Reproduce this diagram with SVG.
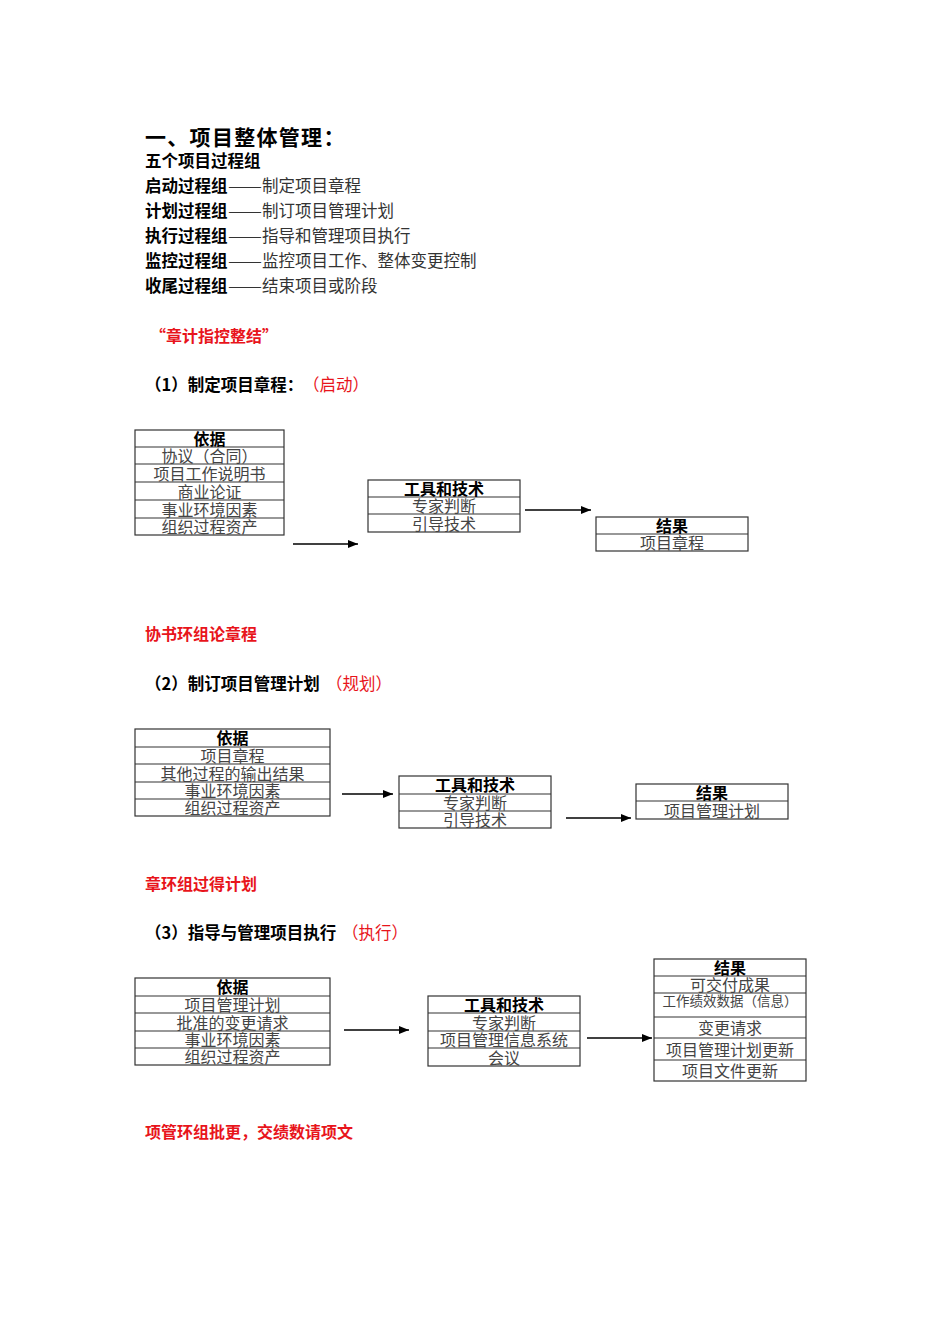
<svg xmlns="http://www.w3.org/2000/svg" width="950" height="1344" viewBox="0 0 950 1344">
<style>
text{font-family:"Noto Sans CJK SC","Liberation Sans",sans-serif}
.ti{font-size:21px;font-weight:bold;fill:#000;letter-spacing:1.3px}
.b{font-size:16.5px;font-weight:bold;fill:#000}
.n{font-size:16.5px;fill:#333;font-weight:normal}
.r{font-size:16px;font-weight:bold;fill:#e8141b}
.rn{fill:#e8141b;font-weight:normal}
.h{font-size:16px;font-weight:bold;fill:#000;text-anchor:middle}
.c{font-size:16px;fill:#444;text-anchor:middle}
.s{font-size:13.5px;fill:#444;text-anchor:middle}
.box{fill:#fff;stroke:#333;stroke-width:1.2}
.ln{stroke:#333;stroke-width:1.2}
.ar{stroke:#000;stroke-width:1.3;fill:none;marker-end:url(#ah)}
</style>
<defs>
<marker id="ah" viewBox="0 0 10 8" refX="10" refY="4" markerWidth="10" markerHeight="8" markerUnits="userSpaceOnUse" orient="auto">
<path d="M0,0 L10,4 L0,8 z" fill="#000"/>
</marker>
</defs>
<rect width="950" height="1344" fill="#fff"/>

<g id="intro">
<text class="ti" x="145" y="145">一、项目整体管理：</text>
<text class="b" x="145" y="167">五个项目过程组</text>
<text class="b" x="145" y="192">启动过程组<tspan class="n" x="228" textLength="34" lengthAdjust="spacingAndGlyphs">——</tspan><tspan class="n" x="262">制定项目章程</tspan></text>
<text class="b" x="145" y="217">计划过程组<tspan class="n" x="228" textLength="34" lengthAdjust="spacingAndGlyphs">——</tspan><tspan class="n" x="262">制订项目管理计划</tspan></text>
<text class="b" x="145" y="242">执行过程组<tspan class="n" x="228" textLength="34" lengthAdjust="spacingAndGlyphs">——</tspan><tspan class="n" x="262">指导和管理项目执行</tspan></text>
<text class="b" x="145" y="267">监控过程组<tspan class="n" x="228" textLength="34" lengthAdjust="spacingAndGlyphs">——</tspan><tspan class="n" x="262">监控项目工作、整体变更控制</tspan></text>
<text class="b" x="145" y="292">收尾过程组<tspan class="n" x="228" textLength="34" lengthAdjust="spacingAndGlyphs">——</tspan><tspan class="n" x="262">结束项目或阶段</tspan></text>
<text class="r" x="150" y="342">“章计指控整结”</text>
<text class="b" x="145" y="391" font-size="16">（1）制定项目章程：<tspan class="rn" x="303">（启动）</tspan></text>
<text class="r" x="145" y="640">协书环组论章程</text>
<text class="b" x="145" y="690" font-size="16">（2）制订项目管理计划<tspan class="rn" x="326">（规划）</tspan></text>
<text class="r" x="145" y="890">章环组过得计划</text>
<text class="b" x="145" y="939" font-size="16">（3）指导与管理项目执行<tspan class="rn" x="342">（执行）</tspan></text>
<text class="r" x="145" y="1138">项管环组批更，交绩数请项文</text>
</g>

<g id="connectors">
<line class="ar" x1="293" y1="544" x2="358" y2="544"/>
<line class="ar" x1="525" y1="510" x2="591" y2="510"/>
<line class="ar" x1="342" y1="794" x2="393" y2="794"/>
<line class="ar" x1="566" y1="818" x2="631" y2="818"/>
<line class="ar" x1="344" y1="1030" x2="409" y2="1030"/>
<line class="ar" x1="587" y1="1038" x2="652" y2="1038"/>
</g>

<g id="input1">
<rect class="box" x="135" y="430" width="149" height="105"/>
<line class="ln" x1="135" y1="447" x2="284" y2="447"/>
<line class="ln" x1="135" y1="464" x2="284" y2="464"/>
<line class="ln" x1="135" y1="482" x2="284" y2="482"/>
<line class="ln" x1="135" y1="500" x2="284" y2="500"/>
<line class="ln" x1="135" y1="518" x2="284" y2="518"/>
<text class="h" x="209.5" y="444.5">依据</text>
<text class="c" x="209.5" y="462">协议（合同）</text>
<text class="c" x="209.5" y="479.5">项目工作说明书</text>
<text class="c" x="209.5" y="497.5">商业论证</text>
<text class="c" x="209.5" y="515.5">事业环境因素</text>
<text class="c" x="209.5" y="533">组织过程资产</text>
</g>

<g id="tools1">
<rect class="box" x="368" y="480" width="152" height="52"/>
<line class="ln" x1="368" y1="497" x2="520" y2="497"/>
<line class="ln" x1="368" y1="514" x2="520" y2="514"/>
<text class="h" x="444" y="494.5">工具和技术</text>
<text class="c" x="444" y="512">专家判断</text>
<text class="c" x="444" y="529.5">引导技术</text>
</g>

<g id="result1">
<rect class="box" x="596" y="517" width="152" height="34"/>
<line class="ln" x1="596" y1="534" x2="748" y2="534"/>
<text class="h" x="672" y="531.5">结果</text>
<text class="c" x="672" y="549">项目章程</text>
</g>

<g id="input2">
<rect class="box" x="135" y="729" width="195" height="87"/>
<line class="ln" x1="135" y1="747" x2="330" y2="747"/>
<line class="ln" x1="135" y1="764" x2="330" y2="764"/>
<line class="ln" x1="135" y1="782" x2="330" y2="782"/>
<line class="ln" x1="135" y1="799" x2="330" y2="799"/>
<text class="h" x="232.5" y="744">依据</text>
<text class="c" x="232.5" y="762">项目章程</text>
<text class="c" x="232.5" y="779.5">其他过程的输出结果</text>
<text class="c" x="232.5" y="797">事业环境因素</text>
<text class="c" x="232.5" y="814">组织过程资产</text>
</g>

<g id="tools2">
<rect class="box" x="399" y="776" width="152" height="52"/>
<line class="ln" x1="399" y1="794" x2="551" y2="794"/>
<line class="ln" x1="399" y1="811" x2="551" y2="811"/>
<text class="h" x="475" y="791">工具和技术</text>
<text class="c" x="475" y="809">专家判断</text>
<text class="c" x="475" y="826">引导技术</text>
</g>

<g id="result2">
<rect class="box" x="636" y="784" width="152" height="35"/>
<line class="ln" x1="636" y1="801" x2="788" y2="801"/>
<text class="h" x="712" y="798.5">结果</text>
<text class="c" x="712" y="816.5">项目管理计划</text>
</g>

<g id="input3">
<rect class="box" x="135" y="978" width="195" height="87"/>
<line class="ln" x1="135" y1="996" x2="330" y2="996"/>
<line class="ln" x1="135" y1="1013" x2="330" y2="1013"/>
<line class="ln" x1="135" y1="1031" x2="330" y2="1031"/>
<line class="ln" x1="135" y1="1048" x2="330" y2="1048"/>
<text class="h" x="232.5" y="993">依据</text>
<text class="c" x="232.5" y="1011">项目管理计划</text>
<text class="c" x="232.5" y="1028.5">批准的变更请求</text>
<text class="c" x="232.5" y="1046">事业环境因素</text>
<text class="c" x="232.5" y="1063">组织过程资产</text>
</g>

<g id="tools3">
<rect class="box" x="428" y="996" width="152" height="70"/>
<line class="ln" x1="428" y1="1013" x2="580" y2="1013"/>
<line class="ln" x1="428" y1="1031" x2="580" y2="1031"/>
<line class="ln" x1="428" y1="1048" x2="580" y2="1048"/>
<text class="h" x="504" y="1010.5">工具和技术</text>
<text class="c" x="504" y="1028.5">专家判断</text>
<text class="c" x="504" y="1046">项目管理信息系统</text>
<text class="c" x="504" y="1063.5">会议</text>
</g>

<g id="result3">
<rect class="box" x="654" y="959" width="152" height="122"/>
<line class="ln" x1="654" y1="976" x2="806" y2="976"/>
<line class="ln" x1="654" y1="993" x2="806" y2="993"/>
<line class="ln" x1="654" y1="1017" x2="806" y2="1017"/>
<line class="ln" x1="654" y1="1038" x2="806" y2="1038"/>
<line class="ln" x1="654" y1="1060" x2="806" y2="1060"/>
<text class="h" x="730" y="973.5">结果</text>
<text class="c" x="730" y="991">可交付成果</text>
<text class="s" x="730" y="1006">工作绩效数据（信息）</text>
<text class="c" x="730" y="1034">变更请求</text>
<text class="c" x="730" y="1055.5">项目管理计划更新</text>
<text class="c" x="730" y="1077">项目文件更新</text>
</g>
</svg>
